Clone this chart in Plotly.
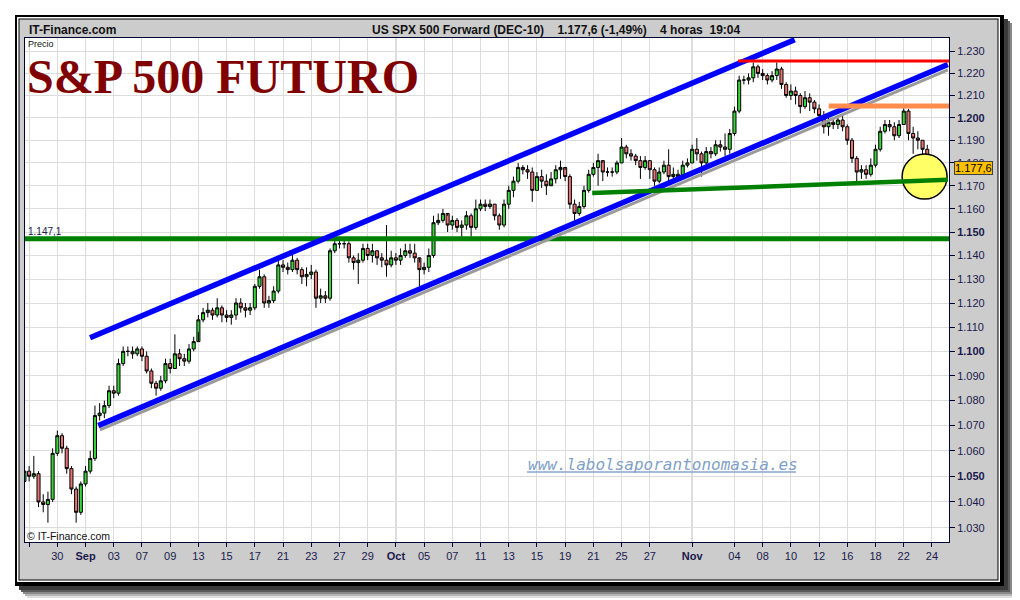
import math
import pandas as pd
import plotly.graph_objects as go

# ---- data (4h-ish candles, 3 per session) ----
first_bar = "2010-08-25 16:00"
first_open = 1048
days = pd.bdate_range("2010-08-26", "2010-11-23")
slots = ["00:00", "08:00", "16:00"]

closes = [1052,
    1050, 1051, 1040,  1039, 1041, 1059,  1066, 1061, 1053,  1045, 1036, 1047,
    1052, 1057, 1074,  1075, 1078, 1084,  1083, 1095, 1100,
    1100, 1099, 1101,  1098, 1092, 1087,  1085, 1088, 1095,  1093, 1099, 1097,  1096, 1101, 1104,
    1113, 1116, 1117,  1115, 1118, 1115,  1114, 1115, 1120,  1118, 1117, 1118,  1127, 1131, 1120,
    1121, 1125, 1136,  1135, 1134, 1138,  1134, 1131, 1132,  1133, 1122, 1123,  1122, 1142, 1145,
    1145, 1145, 1139,  1137, 1138, 1143,  1140, 1142, 1139,  1138, 1136, 1139,  1138, 1140, 1142,
    1141, 1139, 1134,  1135, 1140, 1154,  1155, 1158, 1153,  1155, 1152, 1153,  1157, 1152, 1160,
    1162, 1161, 1162,  1157, 1153, 1162,  1168, 1172, 1178,  1177, 1176, 1168,  1174, 1172, 1170,
    1173, 1177, 1178,  1174, 1162, 1158,  1161, 1168, 1175,  1178, 1181, 1176,  1176, 1176, 1180,
    1187, 1184, 1183,  1181, 1178, 1181,  1177, 1172, 1176,  1179, 1174, 1175,  1174, 1179, 1180,
    1186, 1184, 1180,  1185, 1184, 1188,  1187, 1186, 1193,  1203, 1217, 1217,  1218, 1223, 1220,
    1219, 1217, 1219,  1222, 1215, 1210,  1212, 1210, 1205,  1209, 1207, 1204,  1201, 1196, 1198,
    1197, 1199, 1196,  1190, 1182, 1176,  1177, 1175, 1179,  1186, 1194, 1197,  1196, 1192, 1197,
    1203, 1193, 1191,  1190, 1186, 1177.6]

highs = [1053,
    1054, 1058, 1052,  1043, 1044, 1061,  1068, 1067, 1062,  1054, 1046, 1048,
    1054, 1060, 1078,  1079, 1080, 1086,  1086, 1097, 1102,
    1102, 1102, 1102,  1102, 1100, 1093,  1088, 1090, 1097,  1097, 1107, 1101,  1099, 1103, 1106,
    1115, 1118, 1120,  1118, 1122, 1119,  1117, 1117, 1122,  1122, 1120, 1120,  1128, 1134, 1132,
    1123, 1127, 1138,  1138, 1137, 1141,  1139, 1135, 1135,  1136, 1134, 1126,  1125, 1143, 1147,
    1147, 1147, 1146,  1140, 1141, 1145,  1145, 1145, 1142,  1141, 1153, 1142,  1141, 1143, 1145,
    1145, 1145, 1137,  1137, 1143, 1157,  1158, 1160, 1157,  1157, 1156, 1155,  1159, 1158, 1164,
    1164, 1164, 1164,  1162, 1158, 1164,  1170, 1174, 1180,  1179, 1179, 1178,  1176, 1177, 1175,
    1176, 1179, 1181,  1177, 1175, 1164,  1163, 1170, 1177,  1180, 1184, 1180,  1178, 1178, 1181,
    1191, 1188, 1186,  1184, 1183, 1183,  1181, 1178, 1178,  1181, 1186, 1178,  1177, 1181, 1182,
    1188, 1191, 1185,  1187, 1187, 1190,  1190, 1193, 1195,  1205, 1219, 1219,  1220, 1225, 1224,
    1222, 1220, 1221,  1225, 1223, 1216,  1215, 1214, 1211,  1212, 1211, 1208,  1206, 1203, 1201,
    1200, 1201, 1201,  1197, 1191, 1183,  1179, 1179, 1182,  1188, 1196, 1199,  1199, 1198, 1199,
    1205, 1204, 1196,  1194, 1190, 1188]

lows = [1044,
    1048, 1049, 1038,  1036, 1032, 1040,  1058, 1059, 1051,  1043, 1032, 1035,
    1046, 1051, 1056,  1072, 1073, 1077,  1081, 1082, 1094,
    1098, 1097, 1098,  1096, 1091, 1085,  1082, 1084, 1087,  1091, 1093, 1094,  1094, 1095, 1100,
    1108, 1112, 1114,  1113, 1114, 1112,  1112, 1111, 1113,  1116, 1114, 1115,  1117, 1126, 1118,
    1118, 1120, 1124,  1133, 1132, 1133,  1132, 1128, 1127,  1130, 1118, 1120,  1120, 1121, 1141,
    1143, 1143, 1137,  1134, 1128, 1137,  1138, 1137, 1136,  1135, 1131, 1135,  1136, 1136, 1139,
    1139, 1137, 1127,  1132, 1133, 1139,  1153, 1154, 1150,  1151, 1150, 1148,  1151, 1148, 1151,
    1159, 1159, 1160,  1155, 1151, 1152,  1160, 1165, 1171,  1175, 1173, 1163,  1168, 1169, 1166,
    1171, 1171, 1173,  1172, 1160, 1155,  1157, 1160, 1167,  1174, 1170, 1172,  1174, 1174, 1175,
    1180, 1182, 1181,  1179, 1173, 1177,  1173, 1170, 1171,  1175, 1172, 1172,  1172, 1173, 1178,
    1180, 1181, 1174,  1179, 1182, 1183,  1185, 1183, 1184,  1192, 1202, 1215,  1215, 1216, 1218,
    1217, 1215, 1216,  1217, 1213, 1209,  1208, 1206, 1202,  1204, 1203, 1202,  1199, 1193, 1192,
    1195, 1195, 1194,  1188, 1180, 1172,  1173, 1173, 1174,  1178, 1185, 1193,  1194, 1190, 1191,
    1197, 1190, 1184,  1186, 1181, 1176]

support_level = 1147.1
resistance_red = 1225.6
resistance_orange = 1205.3
upper_channel = (["2010-09-01 07:40", "2010-11-10 06:30"], [1105.6, 1235.4])
lower_channel = (["2010-09-01 21:40", "2010-11-25 03:00"], [1070.0, 1224.1])
gray_channel = (["2010-09-02 00:30", "2010-11-25 03:00"], [1068.3, 1221.6])
rising_support = (["2010-10-20 22:00", "2010-11-25 03:00"], [1166.8, 1172.6])
red_start = "2010-11-04 06:00"
orange_start = "2010-11-12 16:20"
circle_at = ("2010-11-23 11:30", 1174.0)

x_ticks = ["2010-08-26", "2010-08-30", "2010-09-01", "2010-09-03", "2010-09-07", "2010-09-09",
           "2010-09-13", "2010-09-15", "2010-09-17", "2010-09-21", "2010-09-23", "2010-09-27",
           "2010-09-29", "2010-10-01", "2010-10-05", "2010-10-07", "2010-10-11", "2010-10-13",
           "2010-10-15", "2010-10-19", "2010-10-21", "2010-10-25", "2010-10-27", "2010-11-01",
           "2010-11-04", "2010-11-08", "2010-11-10", "2010-11-12", "2010-11-16", "2010-11-18",
           "2010-11-22", "2010-11-24"]
x_labels = ["", "30", "<b>Sep</b>", "03", "07", "09", "13", "15", "17", "21", "23", "27", "29",
            "<b>Oct</b>", "05", "07", "11", "13", "15", "19", "21", "25", "27", "<b>Nov</b>",
            "04", "08", "10", "12", "16", "18", "22", "24"]
month_starts = ["2010-09-01", "2010-10-01", "2010-11-01"]
y_ticks = [1030, 1040, 1050, 1060, 1070, 1080, 1090, 1100, 1110, 1120, 1130,
           1140, 1150, 1160, 1170, 1180, 1190, 1200, 1210, 1220, 1230]

# ---- build ----
times = [pd.Timestamp(first_bar)]
for d in days:
    for s in slots:
        times.append(pd.Timestamp(f"{d.date()} {s}"))
opens = [first_open] + closes[:-1]

x_start, x_end = "2010-08-25 17:00", "2010-11-25 05:00"

# page body has an 8px margin, so the figure is drawn 8px smaller and
# every screen position below is given in window pixels minus that offset
OFF = 8
W, H = 1020 - OFF, 600 - OFF
ML, MT = 25 - OFF, 38 - OFF
PW, PH = 924, 504
MR, MB = W - ML - PW, H - MT - PH


def px(x):
    return (x - OFF - ML) / PW


def py(y):
    return (MT + PH - (y - OFF)) / PH


def fmt(v):
    s = f"{v / 1000:.3f}"
    return f"<b>{s}</b>" if v % 50 == 0 else s


fig = go.Figure()

fig.add_trace(go.Scatter(x=[circle_at[0]], y=[circle_at[1]], mode="markers",
                         marker=dict(size=45, color="#ffff66", line=dict(color="black", width=1.5)),
                         hoverinfo="skip"))

def line(xs, ys, color, width):
    fig.add_trace(go.Scatter(x=xs, y=ys, mode="lines", line=dict(color=color, width=width),
                             hoverinfo="skip"))

line(["2010-08-25 00:00", "2010-11-26 00:00"], [support_level, support_level], "#008000", 5)
line(*upper_channel, "#0000ff", 5.5)
line(*gray_channel, "#9a9a9a", 3)
line(*lower_channel, "#0000ff", 5.5)
line(*rising_support, "#008000", 4.5)
line([red_start, "2010-11-26 00:00"], [resistance_red, resistance_red], "#ff0000", 3)
line([orange_start, "2010-11-26 00:00"], [resistance_orange, resistance_orange], "#ff8c4c", 5)

fig.add_trace(go.Candlestick(
    x=times, open=opens, high=highs, low=lows, close=closes,
    increasing=dict(fillcolor="#3ad43a", line=dict(color="black", width=1)),
    decreasing=dict(fillcolor="#e87474", line=dict(color="black", width=1)),
    whiskerwidth=0, hoverinfo="skip"))

shapes = []
# drop shadow
for off, col in [(12, "#dedede"), (10, "#b4b4b4"), (8, "#888888"), (6, "#5a5a5a"), (4, "#3c3c3c")]:
    shapes.append(dict(type="rect", xref="paper", yref="paper", layer="below",
                       x0=px(15 + off), x1=px(1004 + off), y0=py(586 + off), y1=py(15 + off),
                       fillcolor=col, line=dict(width=0)))
for (a, b, c, d), col in [((15, 15, 1004, 586), "black"), ((17, 17, 1000, 582), "white"),
                          ((18.5, 18.5, 998.5, 580.5), "black"), ((19.5, 19.5, 997.5, 579.5), "#cccccc"),
                          ((25, 38, 949, 542), "white")]:
    shapes.append(dict(type="rect", xref="paper", yref="paper", layer="below",
                       x0=px(a), x1=px(c), y0=py(d), y1=py(b), fillcolor=col, line=dict(width=0)))
for m in month_starts:
    shapes.append(dict(type="line", xref="x", yref="paper", layer="between", x0=m, x1=m, y0=0, y1=1,
                       line=dict(color="#a8a8a8", width=1)))
# watermark underline
shapes.append(dict(type="line", xref="paper", yref="paper", x0=px(527), x1=px(796), y0=py(472), y1=py(472),
                   line=dict(color="#8aa6cc", width=1.5)))

sans = "Liberation Sans, Arial, sans-serif"
ann = [
    dict(x=px(27), y=py(29.5), text="<b>IT-Finance.com</b>", font=dict(size=12, color="#111111")),
    dict(x=px(370), y=py(29.5),
         text="<b>US SPX 500 Forward (DEC-10)    1.177,6 (-1,49%)    4 horas  19:04</b>",
         font=dict(size=12, color="#111111")),
    dict(x=px(26), y=py(44), text="Precio", font=dict(size=9, color="#111111")),
    dict(x=px(25), y=py(77), text="<b>S&P 500 FUTURO</b>",
         font=dict(size=48, color="#800000", family="Liberation Serif, Times New Roman, serif")),
    dict(x=px(25), y=py(536), text="© IT-Finance.com", font=dict(size=10.5, color="#111111")),
    dict(x=px(526), y=py(464), text="<i>www.labolsaporantonomasia.es</i>",
         font=dict(size=16, color="#7f9fc8", family="DejaVu Sans Mono, monospace")),
    dict(x=px(26), xref="paper", y=math.log10(support_level), yref="y", yshift=7,
         text="1.147,1", font=dict(size=10, color="#1a1a4d")),
    dict(x=px(954), xref="paper", y=math.log10(closes[-1]), yref="y", text="1.177,6",
         font=dict(size=11, color="black"), bgcolor="#ffc000", bordercolor="#404040",
         borderwidth=1, borderpad=0),
]
for a in ann:
    a.setdefault("xref", "paper")
    a.setdefault("yref", "paper")
    a.setdefault("xanchor", "left")
    a.setdefault("yanchor", "middle")
    a.setdefault("showarrow", False)
    a["font"].setdefault("family", sans)

fig.update_layout(
    width=W, height=H, margin=dict(l=ML, r=MR, t=MT, b=MB),
    paper_bgcolor="white", plot_bgcolor="white", showlegend=False,
    boxgap=0.35, boxgroupgap=0,
    shapes=shapes, annotations=ann, font=dict(family=sans, size=11, color="#1a1a4d"),
    xaxis=dict(type="date", range=[x_start, x_end], rangeslider=dict(visible=False),
               rangebreaks=[dict(bounds=["sat", "mon"])],
               tickvals=x_ticks, ticktext=x_labels, tickangle=0,
               showgrid=True, gridcolor="#dcdcdc", gridwidth=1,
               ticks="outside", ticklen=4, tickcolor="#000033",
               showline=True, linecolor="#000033", linewidth=1, mirror=True,
               tickfont=dict(size=11, color="#1a1a4d"), zeroline=False),
    yaxis=dict(type="log", range=[math.log10(1024.6), math.log10(1236.2)], side="right",
               tickvals=y_ticks, ticktext=[fmt(v) for v in y_ticks],
               showgrid=True, gridcolor="#dcdcdc", gridwidth=1,
               ticks="outside", ticklen=5, tickcolor="#000033",
               showline=True, linecolor="#000033", linewidth=1, mirror=True,
               tickfont=dict(size=11, color="#1a1a4d"), zeroline=False),
)

fig.write_html("out.html")
